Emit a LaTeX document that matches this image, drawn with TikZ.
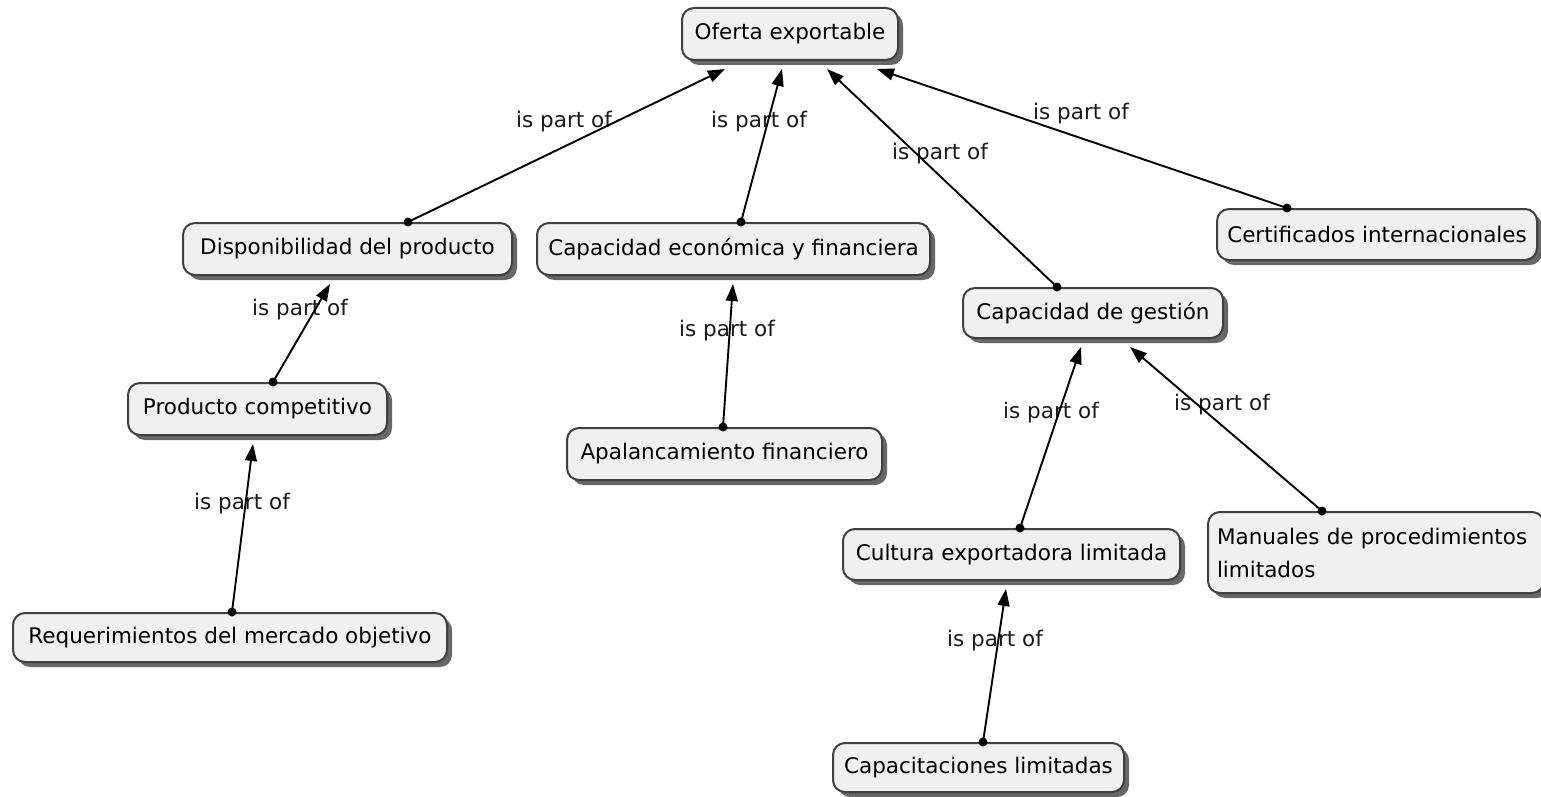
\documentclass[tikz,border=0pt]{standalone}
\usepackage{fontspec}
\setmainfont{DejaVu Sans}
\usetikzlibrary{arrows.meta,shadows}
\tikzset{
  concept/.style={draw=black!75, line width=2pt, rounded corners=12pt,
    fill=black!6, inner sep=0pt, text=black,
    font=\fontsize{21.5}{33}\selectfont,
    drop shadow={shadow xshift=5pt, shadow yshift=-5pt, fill=black!70, opacity=0.85}},
  lbl/.style={font=\fontsize{21.5}{26}\selectfont, text=black!90, inner sep=0pt},
  link/.style={line width=1.9pt, black, -{Triangle[length=17pt,width=12pt]}},
  dot/.style={fill=black, circle, inner sep=0pt, minimum size=9pt}
}
\begin{document}
\begin{tikzpicture}[x=1pt,y=-1pt]
\useasboundingbox (0,0) rectangle (1541,797);
% labels
\node[lbl] (l1) at (564,122) {is part of};
\node[lbl] (l2) at (759,122) {is part of};
\node[lbl] (l3) at (940,154) {is part of};
\node[lbl] (l4) at (1081,114) {is part of};
\node[lbl] (l5) at (300,310) {is part of};
\node[lbl] (l6) at (727,331) {is part of};
\node[lbl] (l7) at (1051,413) {is part of};
\node[lbl] (l8) at (1222,405) {is part of};
\node[lbl] (l9) at (242,504) {is part of};
\node[lbl] (l10) at (995,641) {is part of};
% concepts
\node[concept, minimum width=216pt, minimum height=52pt] (oferta) at (790,34) {Oferta exportable};
\node[concept, minimum width=329pt, minimum height=52pt] (disp) at (347.5,249) {Disponibilidad del producto};
\node[concept, minimum width=393pt, minimum height=52pt] (capeco) at (733.5,249) {Capacidad económica y financiera};
\node[concept, minimum width=320pt, minimum height=51pt] (cert) at (1377,234.5) {Certificados internacionales};
\node[concept, minimum width=260pt, minimum height=50pt] (gestion) at (1093,313) {Capacidad de gestión};
\node[concept, minimum width=259pt, minimum height=52pt] (producto) at (257.5,409) {Producto competitivo};
\node[concept, minimum width=315pt, minimum height=52pt] (apal) at (724.5,454) {Apalancamiento financiero};
\node[concept, minimum width=337pt, minimum height=51pt] (cultura) at (1011.5,554.5) {Cultura exportadora limitada};
\node[concept, minimum width=336pt, minimum height=81pt, text width=318pt, align=left, inner xsep=9pt] (manuales) at (1376,552.5) {Manuales de procedimientos\\limitados};
\node[concept, minimum width=434pt, minimum height=49pt] (requer) at (230,637.5) {Requerimientos del mercado objetivo};
\node[concept, minimum width=291pt, minimum height=49pt] (capacit) at (978.5,767.5) {Capacitaciones limitadas};
% links
\coordinate (d1) at ([xshift=60.5pt]disp.north);
\coordinate (d2) at ([xshift=7.5pt]capeco.north);
\coordinate (d3) at ([xshift=-36pt]gestion.north);
\coordinate (d4) at ([xshift=-90pt]cert.north);
\coordinate (d5) at ([xshift=15.5pt]producto.north);
\coordinate (d6) at ([xshift=-1.5pt]apal.north);
\coordinate (d7) at ([xshift=8.5pt]cultura.north);
\coordinate (d8) at ([xshift=-54pt]manuales.north);
\coordinate (d9) at ([xshift=2pt]requer.north);
\coordinate (d10) at ([xshift=4.5pt]capacit.north);
\draw[link] (d1) -- ([xshift=-65pt,yshift=-8pt]oferta.south);
\draw[link] (d2) -- ([xshift=-8pt,yshift=-8pt]oferta.south);
\draw[link] (d3) -- ([xshift=37pt,yshift=-8pt]oferta.south);
\draw[link] (d4) -- ([xshift=87pt,yshift=-8pt]oferta.south);
\draw[link] (d5) -- ([xshift=-17.5pt,yshift=-8pt]disp.south);
\draw[link] (d6) -- ([xshift=-0.5pt,yshift=-8pt]capeco.south);
\draw[link] (d7) -- ([xshift=-12pt,yshift=-8pt]gestion.south);
\draw[link] (d8) -- ([xshift=37pt,yshift=-8pt]gestion.south);
\draw[link] (d9) -- ([xshift=-4.5pt,yshift=-8pt]producto.south);
\draw[link] (d10) -- ([xshift=-5.5pt,yshift=-8pt]cultura.south);
\foreach \d in {d1,d2,d3,d4,d5,d6,d7,d8,d9,d10} \node[dot] at (\d) {};
\end{tikzpicture}
\end{document}
